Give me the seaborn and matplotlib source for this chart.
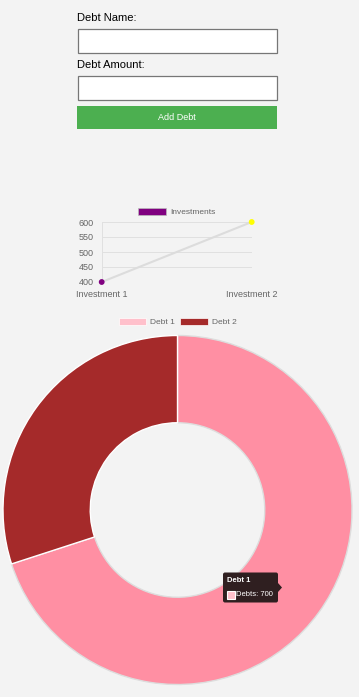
import matplotlib
matplotlib.use("Agg")
import matplotlib.pyplot as plt
import matplotlib.patches as mpatches
import seaborn as sns
import pandas as pd

# Data
investment_labels = ["Investment 1", "Investment 2"]
investment_values = [400, 600]
investment_point_colors = ["purple", "yellow"]

debt_labels = ["Debt 1", "Debt 2"]
debt_values = [700, 300]
debt_colors = ["#ff8fa3", "#a52a2a"]
debt_legend_colors = ["pink", "#a52a2a"]

sns.set_style("white")
plt.rcParams["font.family"] = ["Liberation Sans", "DejaVu Sans"]

W, H = 359, 697
BG = "#f3f3f3"
fig = plt.figure(figsize=(W / 100, H / 100), dpi=100, facecolor=BG)


def px_axes(x0, y0, x1, y1, **kw):
    # axes from pixel box (top-left origin)
    return fig.add_axes([x0 / W, 1 - y1 / H, (x1 - x0) / W, (y1 - y0) / H], **kw)


# Overlay for the form and tooltip (pixel coordinates)
ov = px_axes(0, 0, W, H)
ov.set_xlim(0, W)
ov.set_ylim(H, 0)
ov.axis("off")
ov.set_zorder(10)
ov.patch.set_alpha(0)

ov.text(77, 18, "Debt Name:", fontsize=8, va="center", ha="left", color="black")
ov.add_patch(mpatches.Rectangle((77.5, 28.5), 199, 24, facecolor="white",
                                edgecolor="#767676", linewidth=0.9))
ov.text(77, 65, "Debt Amount:", fontsize=8, va="center", ha="left", color="black")
ov.add_patch(mpatches.Rectangle((77.5, 75.5), 199, 24, facecolor="white",
                                edgecolor="#767676", linewidth=0.9))
ov.add_patch(mpatches.Rectangle((77, 106), 200, 23, facecolor="#4caf50", edgecolor="none"))
ov.text(177, 117.5, "Add Debt", fontsize=6.5, va="center", ha="center", color="white")

# Line chart
ax1 = px_axes(101.7, 222, 251.7, 282)
ax1.set_facecolor(BG)
df_inv = pd.DataFrame({"label": investment_labels, "value": investment_values})
sns.lineplot(data=df_inv, x="label", y="value", ax=ax1, color="#dcdcdc", linewidth=1.5,
             sort=False)
ax1.scatter(df_inv["label"], df_inv["value"], c=investment_point_colors, s=10,
            zorder=5, clip_on=False)
ax1.set_ylim(400, 600)
ax1.set_xlim(0, 1)
ax1.set_yticks([400, 450, 500, 550, 600])
ax1.grid(True, color="#e0e0e0", linewidth=0.7)
for s in ax1.spines.values():
    s.set_visible(False)
ax1.tick_params(axis="both", labelsize=6.5, labelcolor="#666666", length=4.5,
                color="#e0e0e0", width=0.7, pad=1)
ax1.set_xlabel("")
ax1.set_ylabel("")
ax1.legend(handles=[mpatches.Patch(facecolor="purple", edgecolor="#bbbbbb", linewidth=0.5,
                                   label="Investments")],
           loc="lower center", bbox_to_anchor=(0.5, 1.04), frameon=False, fontsize=6,
           handlelength=3.3, handleheight=0.9, handletextpad=0.5, borderaxespad=0,
           labelcolor="#666666")

# Doughnut chart
ax2 = px_axes(3, 335.5, 352, 684.5)
ax2.set_facecolor(BG)
wedges, _ = ax2.pie(debt_values, colors=debt_colors, startangle=90, counterclock=False,
                    wedgeprops=dict(width=0.5, edgecolor="white", linewidth=1.0))
wedges[0].set_edgecolor("#dddddd")
ax2.set_xlim(-1, 1)
ax2.set_ylim(-1, 1)
ax2.set_aspect("auto")
ax2.axis("off")
ax2.legend(handles=[mpatches.Patch(facecolor=c, edgecolor="white", linewidth=0.5, label=l)
                    for c, l in zip(debt_legend_colors, debt_labels)],
           loc="lower center", bbox_to_anchor=(0.5, 1.017), ncol=2, frameon=False,
           fontsize=6, handlelength=3.3, handleheight=0.9, handletextpad=0.5,
           columnspacing=0.6, borderaxespad=0, labelcolor="#666666")

# Tooltip
ov.add_patch(mpatches.FancyBboxPatch((223, 572.5), 55, 30, boxstyle="round,pad=0,rounding_size=2",
                                     facecolor="#2f1f20", edgecolor="none"))
ov.add_patch(mpatches.Polygon([(278, 583), (282, 587.5), (278, 592)], closed=True,
                              facecolor="#2f1f20", edgecolor="none"))
ov.text(227, 580, "Debt 1", fontsize=5.5, fontweight="bold", color="white", va="center")
ov.add_patch(mpatches.Rectangle((226.5, 590.5), 8, 8, facecolor="pink", edgecolor="white",
                                linewidth=0.8))
ov.text(236, 594.5, "Debts: 700", fontsize=5.5, color="white", va="center")

fig.savefig("out.png", dpi=100, facecolor=BG)
